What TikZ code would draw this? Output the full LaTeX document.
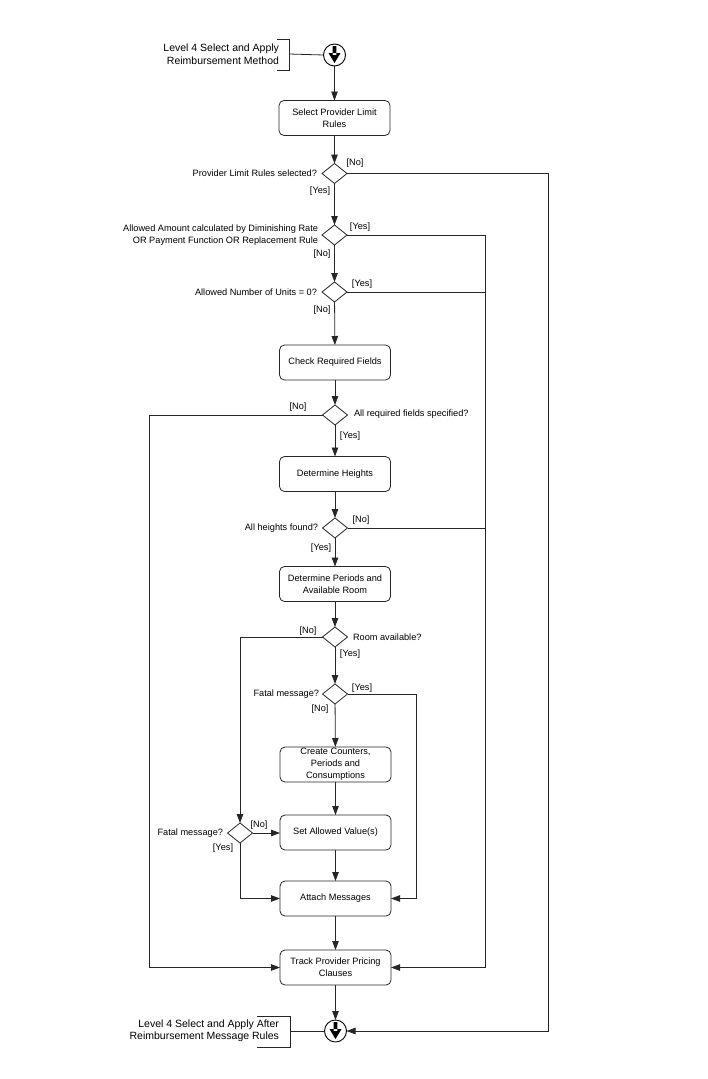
\documentclass[tikz,border=0pt]{standalone}
\usepackage{fontspec}
\setmainfont{Liberation Sans}
\usetikzlibrary{shapes.geometric,arrows.meta}
\begin{document}
\begin{tikzpicture}[x=1pt,y=-1pt,
  every node/.style={inner sep=0pt, outer sep=0pt},
  line/.style={draw=black!85, line width=0.8pt},
  arr/.style={line, -{Triangle[length=9pt,width=6.5pt]}},
  act/.style={draw=black!85, line width=0.8pt, rounded corners=5pt, minimum width=111pt, minimum height=35pt, align=center, font=\fontsize{9.2}{12}\selectfont},
  dec/.style={draw=black!85, line width=0.8pt, shape=diamond, minimum width=25pt, minimum height=20pt},
  lbl/.style={font=\fontsize{9.2}{12.5}\selectfont, align=right},
  grd/.style={font=\fontsize{9.2}{12}\selectfont},
  big/.style={font=\fontsize{10.5}{12.5}\selectfont, align=right},
  term/.style={draw=black, line width=0.9pt, circle, minimum size=22pt}
]
\useasboundingbox (0,0) rectangle (707,1079);

% start / end terminals
\node[term] (s) at (334.5,55) {};
\fill[black] (332.6,46) rectangle (336.4,55) (328.5,53) -- (340.5,53) -- (334.5,63) -- cycle;
\node[term] (e) at (335.5,1031) {};
\fill[black] (333.6,1022) rectangle (337.4,1031) (329.5,1029) -- (341.5,1029) -- (335.5,1039) -- cycle;

% bracket labels
\node[big, anchor=east] (sl) at (279,54) {Level 4 Select and Apply\\Reimbursement Method};
\coordinate (sb) at (289,54);
\draw[line] (277,39) -- (289,39) -- (289,70) -- (277,70);
\draw[line] (sb) -- (s.west);
\node[big, anchor=east] (el) at (279,1031) {Level 4 Select and Apply After\\Reimbursement Message Rules};
\coordinate (eb) at (290,1031);
\draw[line] (257,1016) -- (290,1016) -- (290,1047) -- (257,1047);
\draw[line] (eb) -- (e.west);

% activities
\node[act] (b1) at (334.5,118) {Select Provider Limit\\Rules};
\node[act] (b2) at (335,362.5) {Check Required Fields};
\node[act] (b3) at (335,474) {Determine Heights};
\node[act] (b4) at (335,584) {Determine Periods and\\Available Room};
\node[act] (b5) at (335.5,764.5) {Create Counters,\\Periods and\\Consumptions};
\node[act] (b6) at (335.5,832.5) {Set Allowed Value(s)};
\node[act] (b7) at (335.5,898.5) {Attach Messages};
\node[act] (b8) at (335.5,967.5) {Track Provider Pricing\\Clauses};

% decisions
\node[dec] (d1) at (334.5,173.5) {};
\node[dec] (d2) at (334.5,235) {};
\node[dec] (d3) at (334.5,292) {};
\node[dec] (d4) at (335,415) {};
\node[dec] (d5) at (335,528) {};
\node[dec] (d6) at (335,637) {};
\node[dec] (d7) at (335,694) {};
\node[dec] (d8) at (240,833) {};

% decision labels
\node[lbl, anchor=east] (t1) at (317,173.5) {Provider Limit Rules selected?};
\node[lbl, anchor=east] (t2) at (318,235) {Allowed Amount calculated by Diminishing Rate\\OR Payment Function OR Replacement Rule};
\node[lbl, anchor=east] (t3) at (317,292) {Allowed Number of Units = 0?};
\node[lbl, anchor=west] (t4) at (354,414) {All required fields specified?};
\node[lbl, anchor=east] (t5) at (318,528) {All heights found?};
\node[lbl, anchor=west] (t6) at (353,637) {Room available?};
\node[lbl, anchor=east] (t7) at (319,694.5) {Fatal message?};
\node[lbl, anchor=east] (t8) at (223,833.5) {Fatal message?};

% guards
\node[grd] (g1n) at (355,163) {[No]};
\node[grd] (g1y) at (320,191) {[Yes]};
\node[grd] (g2y) at (360,227) {[Yes]};
\node[grd] (g2n) at (322,254) {[No]};
\node[grd] (g3y) at (362,284) {[Yes]};
\node[grd] (g3n) at (322,310) {[No]};
\node[grd] (g4n) at (298,407) {[No]};
\node[grd] (g4y) at (350,436) {[Yes]};
\node[grd] (g5n) at (361,520) {[No]};
\node[grd] (g5y) at (321,548) {[Yes]};
\node[grd] (g6n) at (308,631) {[No]};
\node[grd] (g6y) at (350,654) {[Yes]};
\node[grd] (g7y) at (362,688) {[Yes]};
\node[grd] (g7n) at (320,709) {[No]};
\node[grd] (g8n) at (259,825.5) {[No]};
\node[grd] (g8y) at (223,848.5) {[Yes]};

% rails
\coordinate (rA) at (548,0);
\coordinate (rB) at (485,0);
\coordinate (rC) at (149,0);
\coordinate (rD) at (416,0);

% main flow
\draw[arr] (s) -- (b1);
\draw[arr] (b1) -- (d1);
\draw[arr] (d1) -- (d2);
\draw[arr] (d2) -- (d3);
\draw[arr] (d3) -- (b2);
\draw[arr] (b2) -- (d4);
\draw[arr] (d4) -- (b3);
\draw[arr] (b3) -- (d5);
\draw[arr] (d5) -- (b4);
\draw[arr] (b4) -- (d6);
\draw[arr] (d6) -- (d7);
\draw[arr] (d7) -- (b5);
\draw[arr] (b5) -- (b6);
\draw[arr] (b6) -- (b7);
\draw[arr] (b7) -- (b8);
\draw[arr] (b8) -- (e);

% branches
\draw[arr] (d1.east) -- (d1.east -| rA) -- (rA |- e.east) -- (e.east);
\draw[arr] (d2.east) -- (d2.east -| rB) -- (rB |- b8.east) -- (b8.east);
\draw[line] (d3.east) -- (d3.east -| rB);
\draw[line] (d5.east) -- (d5.east -| rB);
\draw[arr] (d4.west) -- (d4.west -| rC) -- (rC |- b8.west) -- (b8.west);
\draw[arr] (d6.west) -- (d6.west -| d8.north) -- (d8.north);
\draw[arr] (d7.east) -- (d7.east -| rD) -- (rD |- b7.east) -- (b7.east);
\draw[arr] (d8.east) -- (d8.east -| b6.west);
\draw[arr] (d8.south) -- (d8.south |- b7.west) -- (b7.west);
\end{tikzpicture}
\end{document}
